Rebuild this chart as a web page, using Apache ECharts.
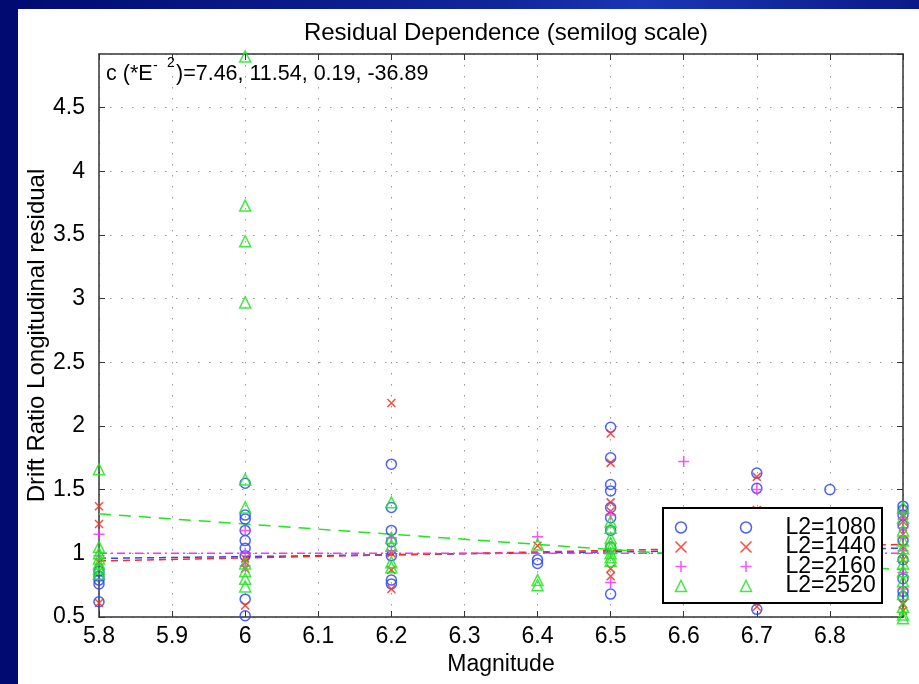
<!DOCTYPE html>
<html lang="en">
<head>
    <meta charset="UTF-8">
    <title>Residual Dependence</title>
    <style>
        html, body { margin: 0; padding: 0; }
        body { width: 919px; height: 684px; position: relative; overflow: hidden;
               background: linear-gradient(90deg, #000a70 0%, #10279c 55%, #1a36b4 70%, #0a1a88 100%); }
        #paper { position: absolute; left: 18px; top: 9px; right: 0; bottom: 0; background: #fff; }
        #chart1 { position: absolute; left: 0; top: 0; width: 919px; height: 684px; }
    </style>
</head>
<body>
<div id="paper"></div>
<div id="chart1"></div>

<script src="https://cdn.jsdelivr.net/npm/echarts@6/dist/echarts.min.js"></script>
<script type="text/javascript">
    // residual points, [magnitude, residual]
    var l1080 = [
        [5.8,0.86],[5.8,0.82],[5.8,0.79],[5.8,0.76],[5.8,0.62],
        [6.0,1.55],[6.0,1.30],[6.0,1.27],[6.0,1.18],[6.0,1.10],[6.0,1.04],[6.0,0.98],[6.0,0.64],[6.0,0.51],
        [6.2,1.70],[6.2,1.36],[6.2,1.18],[6.2,1.09],[6.2,0.98],[6.2,0.79],[6.2,0.76],
        [6.4,0.95],[6.4,0.92],
        [6.5,1.99],[6.5,1.75],[6.5,1.54],[6.5,1.49],[6.5,1.36],[6.5,1.28],[6.5,1.18],[6.5,1.05],[6.5,0.68],
        [6.7,1.63],[6.7,1.51],[6.7,0.56],
        [6.8,1.50],
        [6.9,1.37],[6.9,1.34],[6.9,1.30],[6.9,1.22],[6.9,1.10],[6.9,0.95],[6.9,0.80],[6.9,0.70],[6.9,0.66]
    ];
    var l1440 = [
        [5.8,1.37],[5.8,1.23],[5.8,0.93],[5.8,0.61],
        [6.0,0.96],[6.0,0.93],[6.0,0.88],[6.0,0.59],
        [6.2,2.18],[6.2,1.00],[6.2,0.87],[6.2,0.72],
        [6.4,1.06],
        [6.5,1.94],[6.5,1.71],[6.5,1.40],[6.5,1.33],[6.5,0.88],[6.5,0.82],
        [6.7,1.60],[6.7,1.34],[6.7,0.58],
        [6.9,1.30],[6.9,1.25],[6.9,1.15],[6.9,1.05],[6.9,0.95],[6.9,0.60],[6.9,0.55]
    ];
    var l2160 = [
        [5.8,1.15],[5.8,0.98],
        [6.0,1.18],[6.0,1.00],[6.0,0.90],
        [6.2,1.12],[6.2,1.02],
        [6.4,1.13],
        [6.5,1.30],[6.5,1.00],[6.5,0.77],
        [6.6,1.72],
        [6.7,1.50],
        [6.9,1.32],[6.9,1.27],[6.9,1.20],[6.9,1.12],[6.9,1.02],[6.9,0.85],[6.9,0.72]
    ];
    var l2520 = [
        [5.8,1.66],[5.8,1.05],[5.8,1.00],[5.8,0.96],[5.8,0.92],[5.8,0.88],[5.8,0.84],
        [6.0,4.90],[6.0,3.73],[6.0,3.45],[6.0,2.97],[6.0,1.58],[6.0,1.36],[6.0,0.92],[6.0,0.86],[6.0,0.80],[6.0,0.74],
        [6.2,1.40],[6.2,1.12],[6.2,1.06],[6.2,0.93],[6.2,0.89],
        [6.4,1.07],[6.4,0.79],[6.4,0.75],
        [6.5,1.25],[6.5,1.20],[6.5,1.12],[6.5,1.08],[6.5,1.04],[6.5,1.00],[6.5,0.97],[6.5,0.94],
        [6.9,1.36],[6.9,1.28],[6.9,1.18],[6.9,1.10],[6.9,1.04],[6.9,0.98],[6.9,0.92],[6.9,0.86],[6.9,0.78],[6.9,0.68],[6.9,0.58],[6.9,0.52],[6.9,0.49]
    ];

    // fitted trend lines, end points
    var fitX = [5.8, 6.9];
    var fit1080 = [0.96, 1.04];
    var fit1440 = [0.94, 1.07];
    var fit2160 = [1.00, 1.00];
    var fit2520 = [1.31, 0.87];

    var names = ['L2=1080', 'L2=1440', 'L2=2160', 'L2=2520'];
    var colors = ['#2b45ff', '#ff2b1a', '#ff30ff', '#1ee81e'];
    var symbols = ['circle', 'path://M0,0L10,10M10,0L0,10', 'path://M5,0L5,10M0,5L10,5', 'triangle'];
    var sizes = [10, 8, 11, 11];
    var points = [l1080, l1440, l2160, l2520];
    var fits = [fit1080, fit1440, fit2160, fit2520];
    var dashes = [[7, 5], [7, 5], [8, 4, 2, 4], [12, 8]];

    var font = 'Liberation Sans, Arial, Helvetica, sans-serif';

    var series = [];
    fits.forEach(function (f, i) {
        series.push({
            name: names[i] + ' fit',
            type: 'line',
            data: fitX.map(function (x, k) { return [x, f[k]]; }),
            showSymbol: false,
            silent: true,
            z: 1,
            lineStyle: { color: colors[i], width: 1.5, type: dashes[i] }
        });
    });
    points.forEach(function (p, i) {
        series.push({
            name: names[i],
            type: 'scatter',
            data: p,
            symbol: symbols[i],
            symbolSize: sizes[i],
            clip: false,
            silent: true,
            z: 2,
            itemStyle: { color: 'none', borderColor: colors[i], borderWidth: 1.5, opacity: 0.85 }
        });
    });

    var legendData = names.map(function (n, i) {
        return {
            name: n,
            icon: symbols[i],
            itemStyle: { color: 'none', borderColor: colors[i], borderWidth: 1.5 }
        };
    });

    var myChart1 = echarts.init(document.getElementById('chart1'));
    myChart1.setOption({
        backgroundColor: 'transparent',
        animation: false,
        title: {
            text: 'Residual Dependence (semilog scale)',
            left: 501,
            top: 16,
            textAlign: 'center',
            textStyle: { fontFamily: font, fontSize: 24, fontWeight: 'normal', color: '#000' }
        },
        grid: { left: 99, right: 16, top: 54, bottom: 67, containLabel: false },
        xAxis: [{
            type: 'value',
            min: 5.8, max: 6.9, interval: 0.1,
            name: 'Magnitude',
            nameLocation: 'middle',
            nameGap: 34,
            nameTextStyle: { fontFamily: font, fontSize: 23, color: '#000' },
            axisLine: { lineStyle: { color: '#333', width: 1.5 } },
            axisTick: { inside: true, length: 6, lineStyle: { color: '#333' } },
            axisLabel: { fontFamily: font, fontSize: 23, color: '#000', margin: 8, showMaxLabel: false },
            splitLine: { show: true, lineStyle: { color: '#999', width: 1, type: [1.5, 9.5] } }
        }, {
            type: 'value', position: 'top',
            min: 5.8, max: 6.9, interval: 0.1,
            axisLine: { show: true, lineStyle: { color: '#333', width: 1.5 } },
            axisTick: { inside: true, length: 6, lineStyle: { color: '#333' } },
            axisLabel: { show: false },
            splitLine: { show: false }
        }],
        yAxis: [{
            type: 'value',
            min: 0.5, max: 4.92, interval: 0.5,
            name: 'Drift Ratio Longitudinal residual',
            nameLocation: 'middle',
            nameGap: 50,
            nameMoveOverlap: false,
            nameTextStyle: { fontFamily: font, fontSize: 24, color: '#000' },
            axisLine: { show: true, lineStyle: { color: '#333', width: 1.5 } },
            axisTick: { show: true, inside: true, length: 6, lineStyle: { color: '#333' } },
            axisLabel: { fontFamily: font, fontSize: 23, color: '#000', margin: 14, showMaxLabel: false },
            splitLine: { show: true, lineStyle: { color: '#999', width: 1, type: [1.5, 9.5] } }
        }, {
            type: 'value', position: 'right',
            min: 0.5, max: 4.92, interval: 0.5,
            axisLine: { show: true, lineStyle: { color: '#333', width: 1.5 } },
            axisTick: { show: true, inside: true, length: 6, lineStyle: { color: '#333' } },
            axisLabel: { show: false },
            splitLine: { show: false }
        }],
        legend: [{
            orient: 'vertical',
            left: 668, top: 511, z: 20,
            itemWidth: 11, itemHeight: 11, itemGap: -3.5,
            selectedMode: false,
            formatter: function () { return ' '; },
            textStyle: { fontFamily: font, fontSize: 23 },
            data: legendData
        }, {
            orient: 'vertical',
            left: 733, top: 511, z: 20,
            itemWidth: 11, itemHeight: 11, itemGap: -3.5,
            selectedMode: false,
            textStyle: { fontFamily: font, fontSize: 23, color: '#000', padding: [0, 0, 0, 29] },
            data: legendData
        }],
        graphic: [
            { type: 'rect', shape: { x: 663, y: 508, width: 219, height: 95 }, z: 15,
              style: { fill: '#fff', stroke: '#000', lineWidth: 2 } },
            { type: 'text', left: 106, top: 63, z: 60,
              style: { text: 'c (*E', fontFamily: font, fontSize: 21.5, fill: '#000' } },
            { type: 'text', left: 153, top: 59, z: 60,
              style: { text: '-', fontFamily: font, fontSize: 14, fill: '#000' } },
            { type: 'text', left: 167, top: 56, z: 60,
              style: { text: '2', fontFamily: font, fontSize: 14, fill: '#000' } },
            { type: 'text', left: 176, top: 63, z: 60,
              style: { text: ')=7.46, 11.54, 0.19, -36.89', fontFamily: font, fontSize: 21.5, fill: '#000' } }
        ],
        series: series
    });
</script>

</body>
</html>
